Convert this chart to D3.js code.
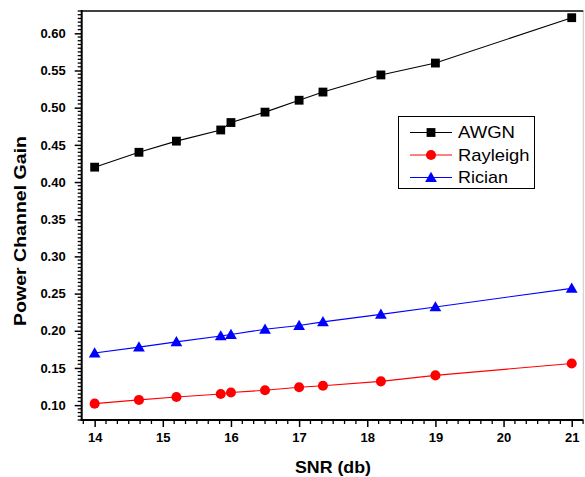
<!DOCTYPE html>
<html><head><meta charset="utf-8">
<script src="https://cdn.jsdelivr.net/npm/d3@7"></script>
<style>html,body{margin:0;padding:0;background:#fff;}svg{display:block;font-family:Arial,"Liberation Sans",sans-serif;}</style>
</head><body>
<svg id="c" width="585" height="477"></svg>
<script>
const snr = [14, 14.65, 15.2, 15.85, 16, 16.5, 17, 17.35, 18.2, 19, 21];
const awgn = [0.420, 0.440, 0.455, 0.470, 0.480, 0.494, 0.510, 0.521, 0.544, 0.560, 0.621];
const rayleigh = [0.102, 0.107, 0.111, 0.115, 0.117, 0.120, 0.124, 0.126, 0.132, 0.140, 0.156];
const rician = [0.170, 0.178, 0.185, 0.193, 0.195, 0.202, 0.207, 0.212, 0.222, 0.232, 0.257];
const seriesNames = ["AWGN", "Rayleigh", "Rician"];
const xTicks = [14, 15, 16, 17, 18, 19, 20, 21];
const yTicks = [0.10, 0.15, 0.20, 0.25, 0.30, 0.35, 0.40, 0.45, 0.50, 0.55, 0.60];

const svg = d3.select("#c");
const L = 81.7, R = 583.3, T = 11, B = 420;
const x = d3.scaleLinear().domain([13.81, 21.17]).range([L, R]);
const y = d3.scaleLinear().domain([0.08, 0.63]).range([B, T]);

// frame: right and top
svg.append("line").attr("x1", R).attr("x2", R).attr("y1", T).attr("y2", B).attr("stroke", "#c8c8c8").attr("stroke-width", 1);
svg.append("line").attr("x1", L).attr("x2", R).attr("y1", T).attr("y2", T).attr("stroke", "#000").attr("stroke-width", 1.5);

// minor ticks
const xMinor = d3.range(-1, 44).map(k => 14 + k / 6).filter(v => v >= 13.81 && v <= 21.18 && Math.abs(v - Math.round(v)) > 0.01);
const yMinor = d3.range(16, 127).map(k => k * 0.005).filter(v => Math.abs(v * 20 - Math.round(v * 20)) > 0.01 && v <= 0.63);

const xAxis = d3.axisBottom(x).tickValues(xTicks).tickFormat(d3.format("d")).tickSize(7).tickPadding(6);
const gx = svg.append("g").attr("transform", `translate(0,${B})`).call(xAxis);
gx.select(".domain").remove();
gx.selectAll(".tick line").attr("stroke-width", 1.5);
gx.selectAll("text").attr("font-size", 13).attr("font-weight", "bold").attr("fill", "#000").attr("font-family", "Arial, 'Liberation Sans', sans-serif");
gx.selectAll(".minor").data(xMinor).enter().append("line").attr("class", "minor")
  .attr("x1", d => x(d)).attr("x2", d => x(d)).attr("y1", 0).attr("y2", 4).attr("stroke", "#000").attr("stroke-width", 1.3);

const yAxis = d3.axisLeft(y).tickValues(yTicks).tickFormat(d3.format(".2f")).tickSize(7).tickPadding(9);
const gy = svg.append("g").attr("transform", `translate(${L},0)`).call(yAxis);
gy.select(".domain").remove();
gy.selectAll(".tick line").attr("stroke-width", 1.5);
gy.selectAll("text").attr("font-size", 13).attr("font-weight", "bold").attr("fill", "#000").attr("font-family", "Arial, 'Liberation Sans', sans-serif");
gy.selectAll(".minor").data(yMinor).enter().append("line").attr("class", "minor")
  .attr("x1", 0).attr("x2", -4).attr("y1", d => y(d)).attr("y2", d => y(d)).attr("stroke", "#000").attr("stroke-width", 1.3);

// axis lines
svg.append("line").attr("x1", L).attr("x2", L).attr("y1", T - 1).attr("y2", B + 1).attr("stroke", "#000").attr("stroke-width", 2);
svg.append("line").attr("x1", L - 1).attr("x2", R).attr("y1", B).attr("y2", B).attr("stroke", "#000").attr("stroke-width", 2);

// axis titles
svg.append("text").attr("x", 333).attr("y", 473).attr("text-anchor", "middle")
  .attr("font-size", 16.5).attr("font-weight", "bold").attr("textLength", 76).attr("lengthAdjust", "spacingAndGlyphs").text("SNR (db)");
svg.append("text").attr("transform", "translate(26,231) rotate(-90)").attr("text-anchor", "middle")
  .attr("font-size", 17).attr("font-weight", "bold").attr("textLength", 190).attr("lengthAdjust", "spacingAndGlyphs").text("Power Channel Gain");

// series
const colors = ["#000000", "#ff0000", "#0000ff"];
const data = [awgn, rayleigh, rician];
const line = d3.line().x((d, i) => x(snr[i])).y(d => y(d));
const symbols = [d3.symbol().type(d3.symbolSquare).size(78), d3.symbol().type(d3.symbolCircle).size(80), d3.symbol().type(d3.symbolTriangle).size(60)];

data.forEach((vals, s) => {
  svg.append("path").datum(vals).attr("d", line).attr("fill", "none").attr("stroke", colors[s]).attr("stroke-width", 1.1);
  svg.append("g").selectAll("path").data(vals).enter().append("path")
    .attr("transform", (d, i) => `translate(${x(snr[i])},${y(d) + (s === 2 ? 1 : 0)})`)
    .attr("d", symbols[s]).attr("fill", colors[s]);
});

// legend
const lg = svg.append("g");
lg.append("rect").attr("x", 398.5).attr("y", 116.5).attr("width", 136).attr("height", 72).attr("fill", "#fff").attr("stroke", "#000").attr("stroke-width", 1);
const rowY = [132.5, 155, 177.5];
const textW = [57, 71.5, 50];
seriesNames.forEach((n, s) => {
  lg.append("line").attr("x1", 410).attr("x2", 452).attr("y1", rowY[s]).attr("y2", rowY[s]).attr("stroke", colors[s]).attr("stroke-width", 1);
  lg.append("path").attr("transform", `translate(431,${rowY[s] + (s === 2 ? 1 : 0)})`).attr("d", symbols[s]).attr("fill", colors[s]);
  lg.append("text").attr("x", 458).attr("y", rowY[s] + 5.5).attr("font-size", 17).attr("textLength", textW[s]).attr("lengthAdjust", "spacingAndGlyphs").attr("fill", "#000").text(n);
});
</script>
</body></html>
